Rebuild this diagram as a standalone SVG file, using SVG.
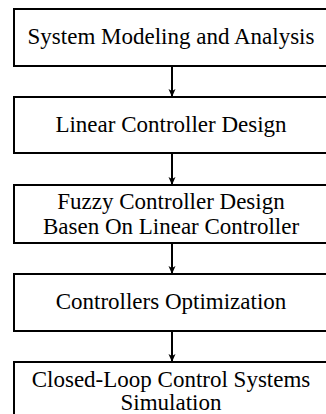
<svg xmlns="http://www.w3.org/2000/svg" width="326" height="414" viewBox="0 0 326 414">
<style>
.box{fill:#fff;stroke:#000;stroke-width:2}
.t{font-family:'Liberation Serif','DejaVu Serif',serif;font-size:23px;fill:#000;text-anchor:middle}
.c{stroke:#000;stroke-width:2;fill:none}
</style>
<defs>
<marker id="ah" markerWidth="8" markerHeight="10" refX="7" refY="5" orient="auto" markerUnits="userSpaceOnUse">
<path d="M0,1.5 L8,5 L0,8.5 L2,5 Z" fill="#000"/>
</marker>
</defs>
<rect width="326" height="414" fill="#fff"/>
<g id="n1"><rect class="box" x="14" y="9" width="316" height="57"/><text class="t" x="171" y="44">System Modeling and Analysis</text></g>
<g id="n2"><rect class="box" x="14" y="97" width="316" height="56"/><text class="t" x="171" y="132">Linear Controller Design</text></g>
<g id="n3"><rect class="box" x="14" y="185" width="316" height="58"/><text class="t" x="171" y="209">Fuzzy Controller Design</text><text class="t" x="171" y="234">Basen On Linear Controller</text></g>
<g id="n4"><rect class="box" x="14" y="274" width="316" height="57"/><text class="t" x="171" y="309">Controllers Optimization</text></g>
<g id="n5"><rect class="box" x="14" y="362" width="316" height="57"/><text class="t" x="171" y="387">Closed-Loop Control Systems</text><text class="t" x="171" y="410">Simulation</text></g>
<g id="connectors">
<line class="c" x1="172" y1="66" x2="172" y2="96" marker-end="url(#ah)"/>
<line class="c" x1="172" y1="153" x2="172" y2="184" marker-end="url(#ah)"/>
<line class="c" x1="172" y1="243" x2="172" y2="273" marker-end="url(#ah)"/>
<line class="c" x1="172" y1="331" x2="172" y2="361" marker-end="url(#ah)"/>
</g>
</svg>
